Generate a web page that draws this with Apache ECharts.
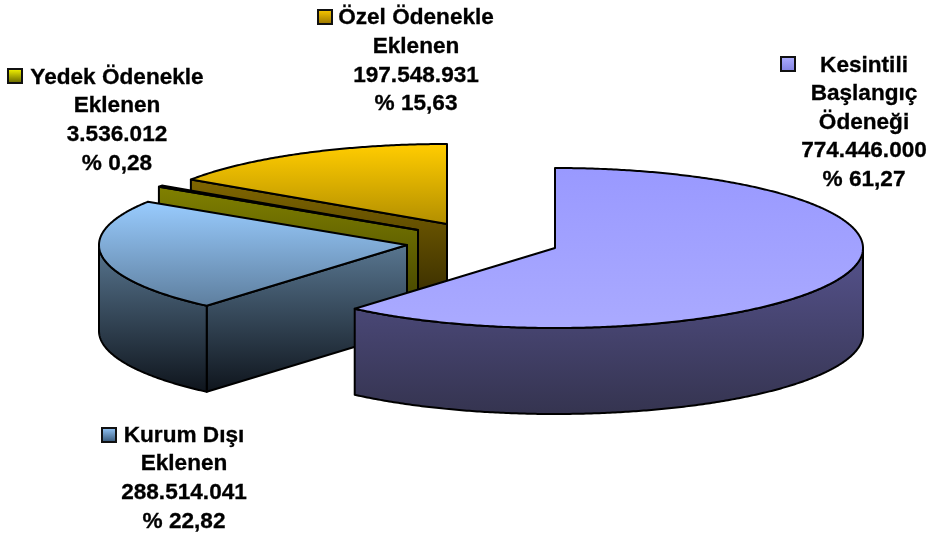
<!DOCTYPE html>
<html>
<head>
<meta charset="utf-8">
<style>
  html, body { margin: 0; padding: 0; background: #fff; }
  #chart { width: 931px; height: 536px; }
</style>
<script src="https://cdn.jsdelivr.net/npm/echarts@6/dist/echarts.min.js"></script>
</head>
<body>
<div id="chart"></div>
<script>
// chart values
const categories = ['Kesintili\nBaşlangıç\nÖdeneği', 'Kurum Dışı\nEklenen', 'Yedek Ödenekle\nEklenen', 'Özel Ödenekle\nEklenen']
const values = [774446000, 288514041, 3536012, 197548931]
const percentLabels = ['61,27', '22,82', '0,28', '15,63']

// pie shape, shared by all slices
const radiusX = 308
const radiusY = 80
const depth = 86

// one entry per slice, same order as categories
const apexes = [[555, 248], [407, 245], [418, 230], [447, 224]]
const drawOrder = [4, 3, 2, 1] // back slices are painted first
const topColors = [
  [169, 328, '#9999ff', '#aaaaff'],
  [201, 304, '#99ccff', '#5f80a0'],
  [187, 231, '#ffff00', '#cccc00'],
  [145, 224, '#ffcc00', '#b38f00']
]
const sideColors = [
  [248, 413, '#55528c', '#353450'],
  [245, 390, '#587690', '#10161e'],
  [187, 316, '#808000', '#404000'],
  [180, 309, '#806600', '#332900']
]
const keyColors = [
  ['#b0b0ff', '#8080e0'],
  ['#99ccff', '#2f4f6f'],
  ['#ffff00', '#5c5c00'],
  ['#ffcc00', '#947000']
]
const labelCenters = [[864, 122.5], [184, 478.5], [117, 120.5], [416, 61]]
const keyPositions = [[781, 57], [102, 428], [8, 69], [318, 10]]

const total = values.reduce((a, b) => a + b, 0)
const formatValue = v => String(v).replace(/\B(?=(\d{3})+$)/g, '.')

function verticalGradient (c) {
  return {
    type: 'linear', global: true, x: 0, y: c[0], x2: 0, y2: c[1],
    colorStops: [{ offset: 0, color: c[2] }, { offset: 1, color: c[3] }]
  }
}

function renderSlice (params, api) {
  const i = params.dataIndex
  let before = 0
  for (let k = 0; k < i; k++) before += values[k]
  const a0 = before / total * 360
  const a1 = (before + api.value(1)) / total * 360
  const [cx, cy] = apexes[i]
  const pt = (deg, dz) => {
    const r = deg * Math.PI / 180
    return [cx + radiusX * Math.sin(r), cy - radiusY * Math.cos(r) + dz]
  }
  const arc = (from, to, dz) => {
    const pts = []
    const n = Math.max(1, Math.ceil((to - from) * 2))
    for (let k = 0; k <= n; k++) pts.push(pt(from + (to - from) * k / n, dz))
    return pts
  }
  const z = drawOrder[i] * 10
  const face = (points, fill, order) => ({
    type: 'polygon',
    z2: z + order,
    shape: { points },
    style: { fill, stroke: '#000', lineWidth: 2, lineJoin: 'round' }
  })
  const side = verticalGradient(sideColors[i])
  const children = []

  // cut face, only when it turns towards the viewer
  if (Math.sin(a0 * Math.PI / 180) < 0) {
    children.push(face([[cx, cy], pt(a0, 0), pt(a0, depth), [cx, cy + depth]], side, 0))
  }
  // outer wall, front half of the ellipse only
  const wallFrom = Math.max(a0, 90)
  const wallTo = Math.min(a1, 270)
  if (wallTo > wallFrom) {
    children.push(face(arc(wallFrom, wallTo, 0).concat(arc(wallFrom, wallTo, depth).reverse()), side, 1))
  }
  children.push(face([[cx, cy]].concat(arc(a0, a1, 0)), verticalGradient(topColors[i]), 2))

  // label and its legend key
  children.push({
    type: 'text',
    z2: 100,
    style: {
      text: categories[i] + '\n' + formatValue(api.value(1)) + '\n% ' + percentLabels[i],
      x: labelCenters[i][0],
      y: labelCenters[i][1],
      fill: '#000',
      stroke: '#000',
      lineWidth: 0.3,
      fontFamily: 'Liberation Sans',
      fontWeight: 'bold',
      fontSize: 22.6,
      lineHeight: 28.6,
      textAlign: 'center',
      textVerticalAlign: 'middle'
    }
  })
  children.push({
    type: 'rect',
    z2: 100,
    shape: { x: keyPositions[i][0], y: keyPositions[i][1], width: 14, height: 14 },
    style: {
      fill: {
        type: 'linear', x: 0, y: 0, x2: 0, y2: 1,
        colorStops: [{ offset: 0, color: keyColors[i][0] }, { offset: 1, color: keyColors[i][1] }]
      },
      stroke: '#111',
      lineWidth: 2
    }
  })
  return { type: 'group', children }
}

const chart = echarts.init(document.getElementById('chart'))
chart.setOption({
  backgroundColor: '#fff',
  animation: false,
  series: [{
    type: 'custom',
    coordinateSystem: 'none',
    renderItem: renderSlice,
    data: values.map((v, i) => [i, v])
  }]
})
</script>
</body>
</html>
